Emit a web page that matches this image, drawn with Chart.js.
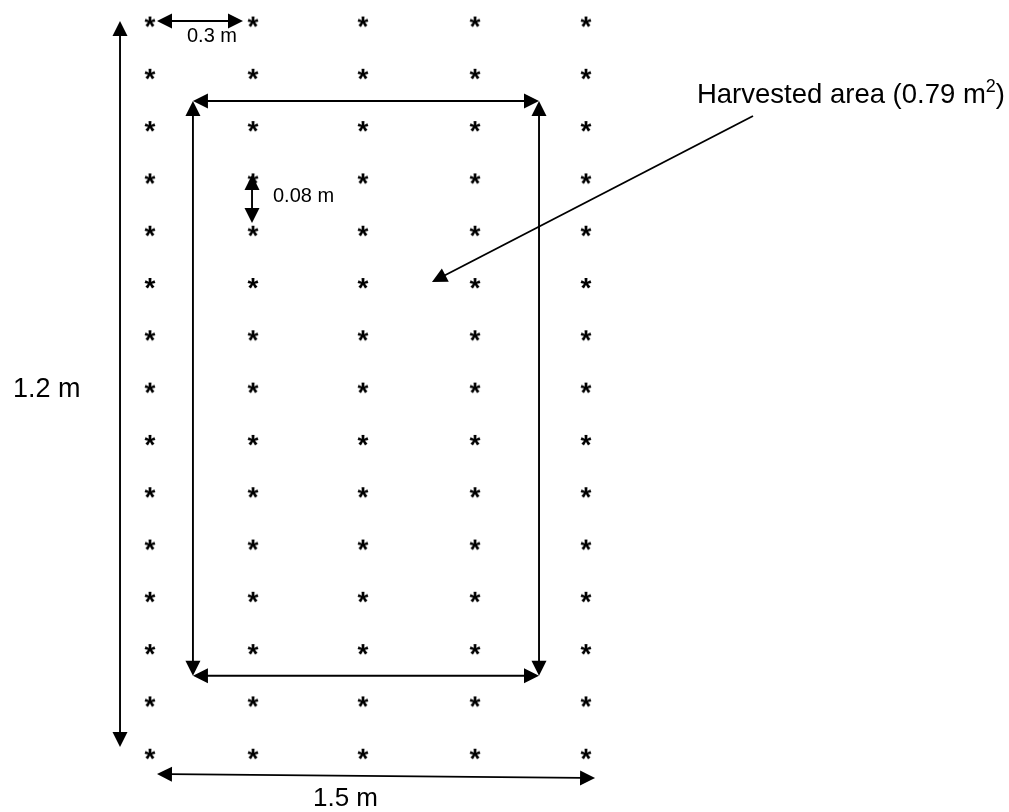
<!DOCTYPE html>
<html>
<head>
<meta charset="utf-8">
<script src="https://cdn.jsdelivr.net/npm/chart.js@4.4.1/dist/chart.umd.min.js"></script>
<style>
  html, body { margin: 0; padding: 0; background: #fff; }
  #wrap { width: 1009px; height: 812px; }
</style>
</head>
<body>
<div id="wrap"><canvas id="plot" width="1009" height="812"></canvas></div>
<script>
// plant positions: columns and rows of the plot (column spacing / row spacing units)
var colX = [0, 0.945, 1.954, 2.982, 4.0];
var rowY = [0, 1, 2, 3, 4, 5, 6, 7, 8, 9, 10, 11, 12, 13, 14];

// harvested area frame (inner rectangle)
var frameX = [0.394, 3.569];
var frameY = [1.52, 12.51];

// dimension arrows: [x1, y1, x2, y2, heads]  heads: 2 = both ends, 1 = end only
var dimArrows = [
    [-0.275, -0.01, -0.275, 13.87, 2],   // 1.2 m
    [0.064, -0.01, 0.853, -0.01, 2],     // 0.3 m
    [0.936, 2.935, 0.936, 3.853, 2],     // 0.08 m
    [0.064, 14.388, 4.083, 14.465, 2],   // 1.5 m
    [5.532, 1.807, 2.587, 4.98, 1]       // leader to harvested area
];

// labels: [text, x, y, font size]
var labels = [
    ['1.2 m', -1.257, 7.18, 27],
    ['0.3 m', 0.339, 0.392, 20],
    ['0.08 m', 1.128, 3.451, 20],
    ['1.5 m', 1.495, 15.0, 26]
];
var areaLabel = ['Harvested area (0.79 m', '2', ')', 5.018, 1.558, 27.5];

var FONT = '"Liberation Sans", Arial, sans-serif';

// an asterisk glyph used as the point style
function makeStar() {
    var c = document.createElement('canvas');
    c.width = 28; c.height = 28;
    var g = c.getContext('2d');
    g.font = 'bold 28px ' + FONT;
    g.fillStyle = '#000';
    g.textAlign = 'center';
    var m = g.measureText('*');
    var a = m.actualBoundingBoxAscent, d = m.actualBoundingBoxDescent;
    g.fillText('*', 14, 14 + (a - d) / 2);
    return c;
}

var pts = [];
rowY.forEach(function (y) {
    colX.forEach(function (x) { pts.push({x: x, y: y}); });
});

function arrow(ctx, x1, y1, x2, y2, heads) {
    var ang = Math.atan2(y2 - y1, x2 - x1);
    var L = 15, W = 7.5;
    var sx = x1, sy = y1, ex = x2, ey = y2;
    if (heads == 2) { sx += Math.cos(ang) * (L - 2); sy += Math.sin(ang) * (L - 2); }
    ex -= Math.cos(ang) * (L - 2); ey -= Math.sin(ang) * (L - 2);
    ctx.beginPath();
    ctx.moveTo(sx, sy);
    ctx.lineTo(ex, ey);
    ctx.stroke();
    var head = function (tx, ty, a) {
        ctx.beginPath();
        ctx.moveTo(tx, ty);
        ctx.lineTo(tx - L * Math.cos(a) + W * Math.sin(a), ty - L * Math.sin(a) - W * Math.cos(a));
        ctx.lineTo(tx - L * Math.cos(a) - W * Math.sin(a), ty - L * Math.sin(a) + W * Math.cos(a));
        ctx.closePath();
        ctx.fill();
    };
    head(x2, y2, ang);
    if (heads == 2) head(x1, y1, ang + Math.PI);
}

var annotations = {
    id: 'annotations',
    afterDatasetsDraw: function (chart) {
        var ctx = chart.ctx;
        var sx = chart.scales.x, sy = chart.scales.y;
        var px = function (v) { return sx.getPixelForValue(v); };
        var py = function (v) { return sy.getPixelForValue(v); };
        ctx.save();
        ctx.strokeStyle = '#000';
        ctx.fillStyle = '#000';
        ctx.lineWidth = 1.9;

        // frame of the harvested area, four double arrows
        var l = px(frameX[0]), r = px(frameX[1]), t = py(frameY[0]), b = py(frameY[1]);
        arrow(ctx, l, t, r, t, 2);
        arrow(ctx, l, t, l, b, 2);
        arrow(ctx, r, t, r, b, 2);
        arrow(ctx, l, b, r, b, 2);

        dimArrows.forEach(function (a) {
            arrow(ctx, px(a[0]), py(a[1]), px(a[2]), py(a[3]), a[4]);
        });

        ctx.textBaseline = 'alphabetic';
        ctx.textAlign = 'left';
        labels.forEach(function (lb) {
            ctx.font = lb[3] + 'px ' + FONT;
            ctx.fillText(lb[0], px(lb[1]), py(lb[2]));
        });

        var x0 = px(areaLabel[3]), y0 = py(areaLabel[4]), fs = areaLabel[5];
        ctx.font = fs + 'px ' + FONT;
        ctx.fillText(areaLabel[0], x0, y0);
        x0 += ctx.measureText(areaLabel[0]).width;
        ctx.font = Math.round(fs * 0.64) + 'px ' + FONT;
        ctx.fillText(areaLabel[1], x0, y0 - fs * 0.4);
        x0 += ctx.measureText(areaLabel[1]).width;
        ctx.font = fs + 'px ' + FONT;
        ctx.fillText(areaLabel[2], x0, y0);
        ctx.restore();
    }
};

new Chart(document.getElementById('plot'), {
    type: 'scatter',
    data: {
        datasets: [{
            label: 'plants',
            data: pts,
            pointStyle: makeStar(),
            pointRadius: 10,
            showLine: false,
            clip: false
        }]
    },
    options: {
        responsive: false,
        animation: false,
        layout: { padding: 0, autoPadding: false },
        plugins: { legend: { display: false }, tooltip: { enabled: false } },
        scales: {
            x: { type: 'linear', display: false, min: -1.3761, max: 7.8807 },
            y: { type: 'linear', display: false, reverse: true, min: -0.4111, max: 15.1147 }
        }
    },
    plugins: [annotations]
});
</script>
</body>
</html>
